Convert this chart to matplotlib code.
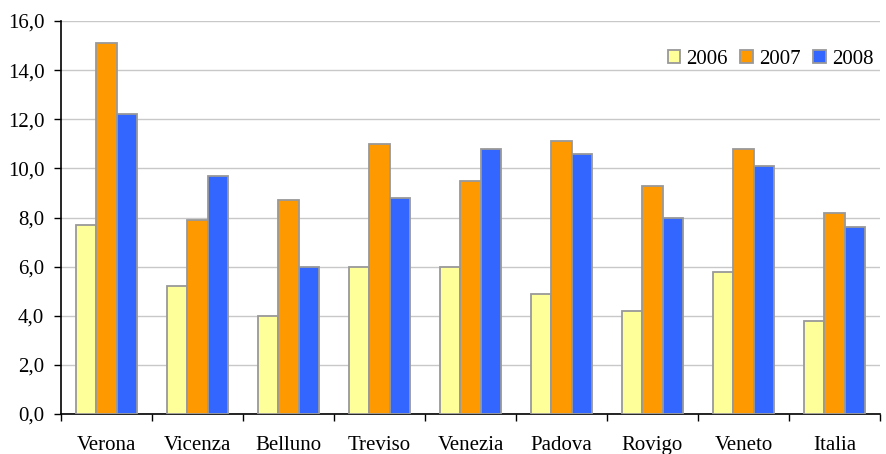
import numpy as np
import matplotlib.pyplot as plt
from matplotlib.ticker import FuncFormatter, FixedLocator

plt.rcParams['font.family'] = ['Liberation Serif', 'DejaVu Serif']

# Dati per provincia
province = ['Verona', 'Vicenza', 'Belluno', 'Treviso', 'Venezia',
            'Padova', 'Rovigo', 'Veneto', 'Italia']
anni = ['2006', '2007', '2008']
v2006 = [7.7, 5.2, 4.0, 6.0, 6.0, 4.9, 4.2, 5.8, 3.8]
v2007 = [15.1, 7.9, 8.7, 11.0, 9.5, 11.1, 9.3, 10.8, 8.2]
v2008 = [12.2, 9.7, 6.0, 8.8, 10.8, 10.6, 8.0, 10.1, 7.6]
colori = ['#FFFF99', '#FF9900', '#3366FF']

fig = plt.figure(figsize=(8.87, 4.54), dpi=100)
ax = fig.add_axes([61 / 887, 1 - 414 / 454, 819 / 887, 393 / 454])

x = np.arange(len(province))
w = 0.225
for i, (serie, col, anno) in enumerate(zip([v2006, v2007, v2008], colori, anni)):
    ax.bar(x + (i - 1) * w, serie, width=w, color=col, edgecolor='#999999',
           linewidth=1.3, label=anno, zorder=3)

ax.set_xlim(-0.5, len(province) - 0.5)
ax.set_ylim(0, 16)
ax.set_yticks(np.arange(0, 16.1, 2))
ax.yaxis.set_major_formatter(FuncFormatter(lambda v, p: f'{v:.1f}'.replace('.', ',')))
ax.grid(axis='y', color='#C8C8C8', linewidth=1, zorder=0)

# etichette al centro, tacche ai confini delle categorie
ax.set_xticks(x)
ax.set_xticklabels(province)
ax.tick_params(axis='x', length=0, pad=16, labelsize=15)
ax.xaxis.set_minor_locator(FixedLocator(np.arange(-0.5, len(province), 1)))
ax.tick_params(axis='x', which='minor', length=5, width=1, direction='out')
ax.tick_params(axis='y', length=5, width=1, direction='out', labelsize=15, pad=7)

for s in ['top', 'right']:
    ax.spines[s].set_visible(False)
for s in ['left', 'bottom']:
    ax.spines[s].set_linewidth(1.2)
    ax.spines[s].set_color('black')

ax.legend(loc='upper right', bbox_to_anchor=(1.015, 0.975), ncol=3, frameon=False,
          fontsize=15, handlelength=0.6, handleheight=0.6, handletextpad=0.3,
          columnspacing=0.6)

fig.savefig('out.png', dpi=100)
